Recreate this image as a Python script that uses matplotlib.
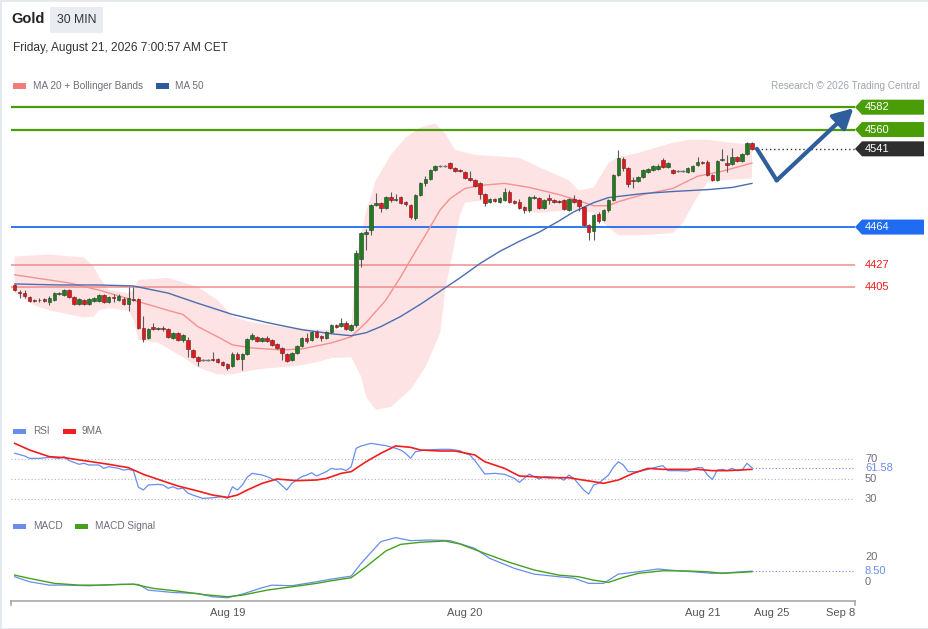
import numpy as np
import matplotlib
matplotlib.use('Agg')
import matplotlib.pyplot as plt
from matplotlib.patches import Polygon, Rectangle

plt.rcParams['font.family'] = ['Liberation Sans', 'DejaVu Sans']

# ---------------------------------------------------------------------------
# data (30 min candles, index 0 = first visible bar)
# ---------------------------------------------------------------------------
opens = [4407, 4400, 4399, 4395, 4392, 4392, 4393, 4390, 4392, 4398,
         4397, 4402, 4395, 4388, 4392, 4388, 4391, 4391, 4397, 4390,
         4395, 4392, 4393, 4388, 4393, 4393, 4365, 4355, 4366, 4364,
         4365, 4364, 4355, 4360, 4353, 4353, 4343, 4336, 4333, 4333,
         4334, 4334, 4331, 4329, 4327, 4339, 4334, 4339, 4354, 4356,
         4352, 4355, 4353, 4349, 4345, 4339, 4333, 4340, 4347, 4355,
         4353, 4361, 4357, 4355, 4361, 4368, 4367, 4370, 4363, 4368,
         4433, 4457, 4461, 4486, 4488, 4483, 4494, 4491, 4494, 4489,
         4486, 4473, 4496, 4507, 4511, 4520, 4524, 4524, 4527, 4522,
         4520, 4518, 4512, 4510, 4507, 4497, 4489, 4492, 4489, 4491,
         4499, 4490, 4489, 4484, 4481, 4493, 4493, 4483, 4493, 4491,
         4490, 4491, 4481, 4492, 4491, 4484, 4466, 4460, 4477, 4471,
         4481, 4491, 4515, 4531, 4522, 4510, 4509, 4513, 4518, 4520,
         4521, 4530, 4523, 4520, 4519, 4519, 4518, 4519, 4525, 4528,
         4528, 4515, 4510, 4530, 4527, 4526, 4533, 4529, 4536, 4547]
highs = [4408, 4402, 4402, 4396, 4393, 4394, 4394, 4396, 4400, 4400,
         4403, 4403, 4396, 4394, 4393, 4394, 4395, 4398, 4398, 4396,
         4398, 4398, 4395, 4405, 4405, 4394, 4376, 4365, 4370, 4366,
         4367, 4365, 4361, 4361, 4359, 4356, 4344, 4337, 4334, 4334,
         4341, 4335, 4332, 4330, 4341, 4341, 4340, 4355, 4360, 4357,
         4356, 4357, 4354, 4350, 4346, 4340, 4341, 4348, 4356, 4360,
         4362, 4363, 4358, 4362, 4369, 4369, 4374, 4372, 4369, 4441,
         4459, 4462, 4487, 4498, 4489, 4495, 4499, 4497, 4495, 4490,
         4487, 4497, 4508, 4514, 4521, 4525, 4525, 4525, 4528, 4523,
         4521, 4519, 4519, 4511, 4508, 4498, 4493, 4493, 4494, 4502,
         4500, 4491, 4492, 4485, 4495, 4496, 4494, 4492, 4497, 4492,
         4491, 4492, 4493, 4496, 4492, 4485, 4467, 4477, 4479, 4482,
         4492, 4516, 4540, 4533, 4523, 4513, 4514, 4521, 4522, 4525,
         4526, 4532, 4528, 4521, 4520, 4520, 4523, 4525, 4533, 4529,
         4530, 4516, 4530, 4541, 4535, 4542, 4534, 4537, 4548, 4548]
lows = [4401, 4394, 4394, 4390, 4390, 4390, 4390, 4387, 4391, 4397,
        4396, 4394, 4387, 4387, 4387, 4387, 4390, 4390, 4389, 4389,
        4390, 4391, 4387, 4381, 4391, 4364, 4351, 4354, 4363, 4363,
        4362, 4355, 4354, 4352, 4351, 4336, 4335, 4327, 4332, 4332,
        4332, 4330, 4327, 4323, 4326, 4333, 4323, 4338, 4353, 4351,
        4351, 4351, 4347, 4344, 4333, 4331, 4332, 4339, 4346, 4350,
        4352, 4355, 4352, 4354, 4360, 4365, 4366, 4363, 4362, 4366,
        4425, 4441, 4456, 4485, 4479, 4482, 4489, 4490, 4487, 4485,
        4472, 4471, 4495, 4504, 4510, 4519, 4523, 4523, 4521, 4518,
        4518, 4511, 4509, 4503, 4492, 4485, 4488, 4489, 4488, 4490,
        4488, 4487, 4482, 4478, 4479, 4492, 4482, 4482, 4487, 4488,
        4488, 4481, 4480, 4488, 4480, 4465, 4451, 4451, 4468, 4470,
        4479, 4490, 4514, 4519, 4503, 4502, 4508, 4512, 4517, 4519,
        4520, 4522, 4522, 4516, 4518, 4518, 4517, 4518, 4524, 4526,
        4514, 4509, 4509, 4529, 4518, 4525, 4528, 4528, 4535, 4540]
closes = [4402, 4399, 4396, 4391, 4391, 4392.6, 4391, 4394, 4399, 4399,
          4402, 4395, 4388, 4393, 4388, 4393, 4394, 4397, 4390, 4395,
          4394, 4396, 4388, 4394, 4392, 4365, 4354, 4364, 4364, 4364.6,
          4364, 4356, 4360, 4353, 4358, 4344, 4336, 4332, 4333, 4333,
          4333, 4331, 4328, 4325, 4339, 4334, 4339, 4354, 4358, 4352,
          4355, 4352, 4348, 4345, 4340, 4332, 4340, 4347, 4355, 4352,
          4361, 4356, 4355, 4361, 4368, 4366, 4370, 4364, 4368, 4438,
          4458, 4459, 4486, 4488, 4483, 4494, 4491, 4492, 4488, 4487,
          4474, 4496, 4507, 4511, 4520, 4524, 4524, 4524, 4522, 4519,
          4519, 4512, 4510, 4504, 4497, 4488, 4492, 4490, 4493, 4499,
          4489, 4488, 4483, 4481, 4494, 4494, 4483, 4491, 4491, 4489,
          4489, 4482, 4492, 4489, 4485, 4466, 4459, 4476, 4470, 4481,
          4491, 4515, 4532, 4522, 4506, 4509, 4513, 4520, 4521, 4524,
          4524, 4523, 4527, 4517, 4519, 4519, 4522, 4524, 4528, 4527,
          4515, 4510, 4529, 4531, 4525, 4533, 4529, 4536, 4547, 4541]

# moving averages / bollinger bands, sampled at bar index
ma20_x = [0, 11, 17, 24, 31, 34, 37, 41, 44, 48, 54, 58, 64, 68, 71, 75, 78, 81,
          83, 86, 88, 91, 94, 99, 104, 110, 114, 117, 120, 122, 127, 133, 138, 143, 149]
ma20 = [4417, 4409, 4402, 4392, 4382, 4378, 4366, 4356, 4348, 4345, 4343, 4344,
        4350, 4356, 4370, 4392, 4415, 4440, 4456, 4481, 4492, 4502, 4505, 4507,
        4503, 4496, 4490, 4485, 4485, 4489, 4496, 4502, 4514, 4519, 4527]
ma50_x = [0, 9, 17, 24, 27, 31, 37, 44, 51, 58, 64, 68, 71, 74, 78, 82, 86, 90,
          94, 98, 102, 106, 110, 113, 117, 120, 127, 133, 140.5, 145, 149]
ma50 = [4408, 4407, 4407, 4406, 4403, 4399, 4389, 4378, 4370, 4363, 4359, 4357,
        4360, 4366, 4376, 4388, 4401, 4414, 4428, 4440, 4450, 4459, 4470, 4479,
        4488, 4493, 4497, 4499, 4501, 4503, 4507]
bb_up_x = [0, 7, 14, 16, 17, 19, 23, 24, 25, 31, 37, 41, 44, 48, 54, 61, 68, 69,
           71, 73, 76, 79, 82, 85, 87, 89, 93, 99.5, 102, 106, 112, 114, 117, 120,
           122, 126, 133, 136.5, 140, 143, 149]
bb_up = [4435, 4437, 4434, 4425, 4415, 4402, 4399, 4402, 4412, 4414, 4405, 4392,
         4376, 4370, 4366, 4363, 4363, 4432, 4479, 4510, 4535, 4552, 4562, 4566,
         4556, 4540, 4535, 4533, 4532, 4523, 4510, 4500, 4503, 4527, 4533, 4537,
         4547, 4550, 4550, 4548, 4545]
bb_lo_x = [0, 4, 7, 11, 14, 16, 17, 19, 23, 24, 25, 29, 34, 37, 41, 44, 48, 51,
           54, 58, 61, 64, 68, 70, 71, 73, 76, 80, 83, 86, 87, 89, 90, 91, 96, 101,
           103.5, 106, 113, 117, 120, 122, 126, 133, 135, 138, 140, 143, 149]
bb_lo = [4399, 4387, 4382, 4378, 4375, 4376, 4382, 4384, 4382, 4373, 4353, 4350,
         4336, 4326, 4319, 4319, 4323, 4325, 4326, 4328, 4331, 4335, 4336, 4317,
         4297, 4284, 4287, 4304, 4326, 4360, 4402, 4451, 4476, 4488, 4491, 4488,
         4479, 4478, 4481, 4478, 4464, 4456, 4456, 4458, 4468, 4494, 4508, 4510, 4512]

# key levels
resistances = [4582, 4560]
last_price = 4541
pivot = 4464
supports = [4427, 4405]

# expected path (arrow)
scen_x = [150, 154, 169.5]
scen_y = [4541, 4510, 4581]

# RSI(14) and its 9 period MA
rsi_x = [0, 2, 3, 5, 7, 9, 10, 11, 13, 14, 15, 17, 18, 19, 21, 22, 23, 24, 25, 26,
         27, 29, 30, 31, 32, 33, 34, 35, 36, 38, 40, 42, 43, 44, 45, 46, 47, 48, 50,
         51, 53, 55, 56, 58, 59, 60, 61, 63, 64, 65, 66, 67, 68, 69, 70, 72, 74, 75,
         77, 78, 79, 80, 81, 83, 86, 88, 90, 91, 92, 93, 94, 95, 97, 99, 101, 102,
         104, 105, 106, 107, 108, 110, 111, 112, 113, 115, 116, 117, 118, 119, 120,
         121, 122, 123, 124, 126, 128, 130, 131, 132, 134, 136, 138, 139, 140, 141,
         142, 143, 144, 145, 146, 147, 148, 149]
rsi = [76.1, 73.4, 71.0, 71.0, 72.0, 71.0, 72.7, 68.7, 65.0, 66.0, 64.3, 64.3, 60.9,
       62.6, 60.9, 59.2, 59.9, 58.5, 42.0, 39.1, 44.1, 44.8, 44.1, 40.8, 42.4, 40.1,
       41.0, 36.0, 34.0, 30.7, 31.3, 32.4, 30.7, 42.4, 39.1, 44.1, 52.0, 55.9, 54.2,
       52.5, 48.2, 39.1, 45.8, 52.5, 54.2, 56.5, 53.2, 57.6, 60.9, 59.9, 60.5, 58.6,
       62.6, 81.1, 83.4, 86.1, 84.5, 83.8, 81.1, 79.4, 76.1, 71.0, 77.7, 79.4, 80.1,
       80.1, 78.7, 76.0, 74.4, 68.7, 62.0, 55.2, 55.9, 54.9, 50.8, 46.8, 55.2, 52.5,
       50.2, 52.5, 52.5, 51.5, 49.0, 54.2, 50.8, 39.1, 35.0, 44.1, 45.8, 50.0, 54.2,
       62.0, 67.6, 64.3, 57.6, 57.6, 59.9, 62.6, 63.6, 58.6, 58.6, 58.2, 61.6, 61.6,
       54.2, 49.8, 59.2, 59.9, 58.6, 60.9, 58.5, 59.2, 66.0, 61.58]
rsi_ma_x = [0, 3, 7, 10, 14, 19, 23, 26, 29, 33, 37, 40, 43, 45, 47, 50, 53, 57,
            61, 63, 66, 68, 71, 74, 77, 80, 82, 86, 89, 93, 95, 99, 102, 105, 108,
            112, 114, 117, 119, 122, 125, 128, 131, 135, 138, 141, 144, 149]
rsi_ma = [86.1, 79.4, 72.7, 71.7, 68.7, 65.0, 61.6, 54.9, 49.8, 43.1, 38.1, 34.0,
          31.7, 34.0, 39.1, 45.8, 50.2, 48.5, 49.2, 50.8, 55.9, 57.6, 67.6, 76.1,
          83.5, 82.1, 79.4, 78.4, 78.4, 74.4, 67.6, 60.9, 53.2, 52.5, 51.5, 51.5,
          49.8, 47.5, 45.8, 49.2, 55.9, 60.9, 59.9, 59.9, 59.9, 58.6, 58.6, 59.9]

# MACD and signal
macd_x = [0, 3, 7, 10, 15, 21, 25, 27, 32, 37, 40, 43, 46, 50, 52, 56, 61, 64, 68,
          70, 74, 77, 80, 84, 88, 93, 96, 101, 105, 110, 113, 116, 119, 122, 126,
          130, 134, 137, 141, 144, 149]
macd = [4.0, 0.0, -2.7, -2.7, -3.2, -2.1, -2.1, -6.7, -8.6, -9.4, -12.0, -12.8,
        -9.9, -4.8, -2.7, -3.2, 0.0, 2.1, 4.5, 14.7, 32.1, 35.3, 32.9, 33.4, 32.9,
        26.7, 18.7, 10.7, 6.1, 4.0, 2.9, -1.3, -1.3, 6.1, 8.0, 10.2, 8.8, 8.0, 6.7,
        7.2, 8.50]
signal_x = [0, 3, 8, 13, 17, 24, 28, 33, 38, 43, 46, 51, 56, 61, 64, 68, 71, 75, 78,
            82, 87, 90, 95, 100, 105, 110, 114, 117, 120, 123, 126, 131, 136, 140,
            143, 149]
signal = [5.3, 2.7, -1.3, -2.7, -2.7, -1.9, -5.3, -7.5, -10.2, -12.0, -10.7, -6.7,
          -4.0, -1.3, 0.8, 3.2, 12.0, 24.6, 29.9, 31.6, 32.6, 30.2, 22.7, 15.5, 9.4,
          5.3, 4.0, 1.3, -0.5, 3.5, 6.7, 8.8, 8.6, 8.0, 6.7, 8.0]

tick_pos = [43, 91, 139, 153, 167]
tick_labels = ['Aug 19', 'Aug 20', 'Aug 21', 'Aug 25', 'Sep 8']

# ---------------------------------------------------------------------------
# layout helpers (pixel based)
# ---------------------------------------------------------------------------
W, H = 929, 629
fig = plt.figure(figsize=(W / 100, H / 100), dpi=100, facecolor='white')

def px_axes(left, top, right, bottom):
    return fig.add_axes([left / W, 1 - bottom / H, (right - left) / W, (bottom - top) / H])

X0_PX, BAR_PX = 14.7, 4.948     # first bar position and bar spacing in px
def bar_at(px):
    return (px - X0_PX) / BAR_PX

def ftext(x, y, s, **kw):
    fig.text(x / W, 1 - y / H, s, **kw)

def swatch(x, y, color):
    fig.add_artist(Rectangle((x / W, 1 - (y + 2.5) / H), 13 / W, 5 / H,
                             transform=fig.transFigure, color=color, lw=0))

GREEN_LVL = '#4a9d06'
BLUE_LVL = '#1f6cf2'
RED_LVL = '#f28b8b'
LINE_BLUE = '#6a8ded'
GREY_TXT = '#6e6e78'

ax = px_axes(11, 95, 924, 415)
ax_rsi = px_axes(11, 437, 924, 505)
ax_macd = px_axes(11, 532, 924, 600)
for a in (ax, ax_rsi, ax_macd):
    a.set_xlim(bar_at(11), bar_at(924))
    a.axis('off')
ax.set_ylim(4279, 4594)
ax_rsi.set_ylim(24, 92.5)
ax_macd.set_ylim(-14.6, 39.8)

x_end = bar_at(855)
label_x = bar_at(865)

# ---- price panel ----
ax.fill(np.r_[bb_up_x, bb_lo_x[::-1]], np.r_[bb_up, bb_lo[::-1]],
        color='#fde3e3', lw=0, zorder=0)

ax.hlines(resistances, bar_at(11), x_end, color=GREEN_LVL, lw=1.6, zorder=1)
ax.hlines(pivot, bar_at(11), x_end, color=BLUE_LVL, lw=1.3, zorder=1)
ax.hlines(supports, bar_at(11), x_end, color=RED_LVL, lw=1.1, zorder=1)
ax.hlines(last_price, len(closes), x_end, color='#333333', lw=1,
          linestyles=(0, (1, 2)), zorder=1)

ax.plot(ma20_x, ma20, color='#f59191', lw=1.0, zorder=2)
ax.plot(ma50_x, ma50, color='#4a6db0', lw=1.0, zorder=2)

idx = np.arange(len(closes))
o, c = np.array(opens), np.array(closes)
ax.vlines(idx, lows, highs, color='#5a5a5a', lw=0.8, zorder=3)
up = c > o
dn = c < o
flat = c == o
ax.bar(idx[up], (c - o)[up], bottom=o[up], width=0.72, color='#1e7d1e',
       edgecolor='#2b3b2b', lw=0.4, zorder=4)
ax.bar(idx[dn], (o - c)[dn], bottom=c[dn], width=0.72, color='#e5161c',
       edgecolor='#5b2020', lw=0.4, zorder=4)
ax.hlines(c[flat], idx[flat] - 0.45, idx[flat] + 0.45, color='#777777', lw=1, zorder=4)

# forecast arrow
ARROW = '#2f5e9d'
ax.plot(scen_x[:2], scen_y[:2], color=ARROW, lw=3, solid_capstyle='round', zorder=6)
ax.annotate('', xy=(scen_x[2], scen_y[2]), xytext=(scen_x[1], scen_y[1]),
            arrowprops=dict(arrowstyle='-|>,head_length=0.6,head_width=0.32',
                            color=ARROW, lw=3, shrinkA=0, shrinkB=0,
                            mutation_scale=20, capstyle='round'),
            annotation_clip=False, zorder=6)

# right hand tags
half = 7.5 * (ax.get_ylim()[1] - ax.get_ylim()[0]) / 320
tip, body, right = x_end, bar_at(862), bar_at(924)
for lvl, col in [(resistances[0], GREEN_LVL), (resistances[1], GREEN_LVL),
                 (last_price, '#2e2e2e'), (pivot, BLUE_LVL)]:
    ax.add_patch(Polygon([(tip, lvl), (body, lvl + half), (right, lvl + half),
                          (right, lvl - half), (body, lvl - half)],
                         closed=True, color=col, lw=0, zorder=7, clip_on=False))
    ax.text(label_x, lvl, f'{lvl}', color='white', fontsize=8, va='center',
            ha='left', zorder=8)
for lvl in supports:
    ax.text(label_x, lvl, f'{lvl}', color='#f01c1c', fontsize=8, va='center', ha='left')

# ---- RSI panel ----
ax_rsi.hlines([70, 50, 30], bar_at(11), bar_at(853), colors='#b5b5b5',
              linestyles=(0, (1, 2)), lw=0.8)
ax_rsi.plot(rsi_x, rsi, color=LINE_BLUE, lw=0.9)
ax_rsi.plot(rsi_ma_x, rsi_ma, color='#f21d1d', lw=1.2)
ax_rsi.hlines(rsi[-1], rsi_x[-1], bar_at(853), colors=LINE_BLUE,
              linestyles=(0, (1, 2)), lw=0.8)
for v in (70, 50, 30):
    ax_rsi.text(label_x, v, str(v), color=GREY_TXT, fontsize=8, va='center')
ax_rsi.text(label_x, rsi[-1], f'{rsi[-1]:.2f}', color=LINE_BLUE, fontsize=8, va='center')

# ---- MACD panel ----
ax_macd.plot(macd_x, macd, color=LINE_BLUE, lw=0.9)
ax_macd.plot(signal_x, signal, color='#45a11c', lw=1.0)
ax_macd.hlines(macd[-1], macd_x[-1], bar_at(853), colors=LINE_BLUE,
               linestyles=(0, (1, 2)), lw=0.8)
for v in (20, 0):
    ax_macd.text(label_x, v, str(v), color=GREY_TXT, fontsize=8, va='center')
ax_macd.text(label_x, macd[-1], f'{macd[-1]:.2f}', color=LINE_BLUE, fontsize=8, va='center')

# ---- date axis ----
ax_date = px_axes(11, 601, 855, 605)
ax_date.set_xlim(bar_at(11), bar_at(855))
ax_date.set_ylim(0, 1)
ax_date.set_facecolor('none')
ax_date.spines['bottom'].set_visible(False)
for s in ('top', 'left', 'right'):
    ax_date.spines[s].set_color('#a8a8a8')
    ax_date.spines[s].set_linewidth(1.2)
ax_date.set_yticks([])
ax_date.set_xticks(tick_pos)
ax_date.set_xticklabels(tick_labels)
ax_date.tick_params(axis='x', length=0, pad=2.5, labelsize=8, labelcolor='#555555')

# ---- header texts and legends ----
ftext(11, 19, 'Gold', fontsize=10.5, fontweight='bold', color='#222222', va='center')
ftext(57, 20, '30 MIN', fontsize=8.8, color='#333333', va='center',
      bbox=dict(boxstyle='square,pad=0.55', fc='#e9edf2', ec='none'))
ftext(13, 48, 'Friday, August 21, 2026 7:00:57 AM CET', fontsize=8.6,
      color='#333333', va='center')

swatch(13, 86, '#f47c7c')
ftext(33, 86, 'MA 20 + Bollinger Bands', fontsize=7.2, color=GREY_TXT, va='center')
swatch(156, 86, '#2f5a9a')
ftext(175, 86, 'MA 50', fontsize=7.2, color=GREY_TXT, va='center')
ftext(920, 86, 'Research \u00a9 2026 Trading Central', fontsize=7.2,
      color='#a0a4ad', va='center', ha='right')

swatch(13, 431, LINE_BLUE)
ftext(33, 431, 'RSI', fontsize=7.2, color=GREY_TXT, va='center')
swatch(63, 431, '#f21d1d')
ftext(82, 431, '9MA', fontsize=7.2, color=GREY_TXT, va='center')

swatch(13, 526, LINE_BLUE)
ftext(33, 526, 'MACD', fontsize=7.2, color=GREY_TXT, va='center')
swatch(75, 526, '#45a11c')
ftext(95, 526, 'MACD Signal', fontsize=7.2, color=GREY_TXT, va='center')

fig.add_artist(Rectangle((0, 0), 1, 1, transform=fig.transFigure, fill=False,
                         ec='#e3e8ee', lw=2))

fig.savefig('out.png', dpi=100, facecolor='white')
